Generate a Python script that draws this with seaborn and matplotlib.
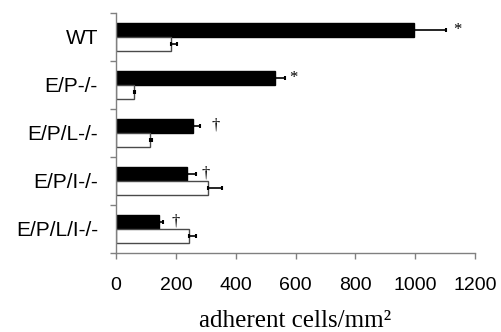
import matplotlib
matplotlib.use("Agg")
import matplotlib.pyplot as plt
import seaborn as sns
import pandas as pd
import numpy as np

genotypes = ["WT", "E/P-/-", "E/P/L-/-", "E/P/I-/-", "E/P/L/I-/-"]
conditions = ["stimulated", "unstimulated"]
black_vals = [995, 531, 258, 238, 144]
black_err = [108, 35, 22, 31, 14]
white_vals = [183, 60, 113, 308, 245]
white_err = [22, 4, 8, 46, 24]
annot_symbols = ["*", "*", "\u2020", "\u2020", "\u2020"]
annot_x = [1140, 594, 332, 300, 199]
x_ticks = [0, 200, 400, 600, 800, 1000, 1200]

df = pd.DataFrame({
    "genotype": genotypes * 2,
    "condition": [conditions[0]] * 5 + [conditions[1]] * 5,
    "value": black_vals + white_vals,
    "err": black_err + white_err,
})

sns.set_style("white")
plt.rcParams["font.family"] = ["Liberation Sans", "DejaVu Sans"]
plt.rcParams["text.color"] = "black"
plt.rcParams["xtick.labelcolor"] = "black"
plt.rcParams["ytick.labelcolor"] = "black"

fig = plt.figure(figsize=(5.01, 3.32), dpi=100)
ax = fig.add_axes([116 / 501, 1 - 253 / 332, (475 - 116) / 501, (253 - 13) / 332])

sns.barplot(data=df, x="value", y="genotype", hue="condition", order=genotypes,
            hue_order=conditions, palette=["black", "white"], width=0.6, gap=0,
            orient="h", errorbar=None, legend=False, ax=ax, linewidth=1.0)

patches = [p for p in ax.patches if p.get_width() > 0]
errs = black_err + white_err
for i, p in enumerate(patches):
    if i >= 5:
        p.set_edgecolor("#4a4a4a")
    else:
        p.set_edgecolor("black")
    yc = p.get_y() + p.get_height() / 2
    w = p.get_width()
    ax.errorbar(w, yc, xerr=[[0], [errs[i]]], fmt="none", ecolor="black",
                elinewidth=1.2, capsize=1.2, capthick=1.5)

for i, p in enumerate(patches[:5]):
    yc = p.get_y() + p.get_height() / 2
    ax.text(annot_x[i], yc, annot_symbols[i], ha="center", va="center",
            fontsize=12, color="black", family=["Liberation Serif", "DejaVu Serif"])

ax.set_xlim(0, 1200)
ax.set_ylim(len(genotypes) - 0.5, -0.5)
ax.set_xticks(x_ticks)
ax.set_xticklabels([str(t) for t in x_ticks], fontsize=14, color="black")
ax.set_yticks(range(len(genotypes)))
ax.set_yticklabels(genotypes, fontsize=15, color="black")
ax.set_yticks(np.arange(-0.5, len(genotypes)), minor=True)
ax.tick_params(axis="y", which="major", length=0, pad=13)
ax.tick_params(axis="y", which="minor", length=4.5, color="#808080", width=1, left=True)
ax.tick_params(axis="x", which="major", length=4, color="#808080", width=1, bottom=True, pad=13)
ax.set_ylabel("")
ax.set_xlabel("adherent cells/mm\u00b2", fontsize=18, color="black",
              family=["Liberation Serif", "DejaVu Serif"], labelpad=12)

for s in ["top", "right"]:
    ax.spines[s].set_visible(False)
for s in ["left", "bottom"]:
    ax.spines[s].set_color("#808080")
    ax.spines[s].set_linewidth(1)

fig.savefig("out.png", dpi=100)
